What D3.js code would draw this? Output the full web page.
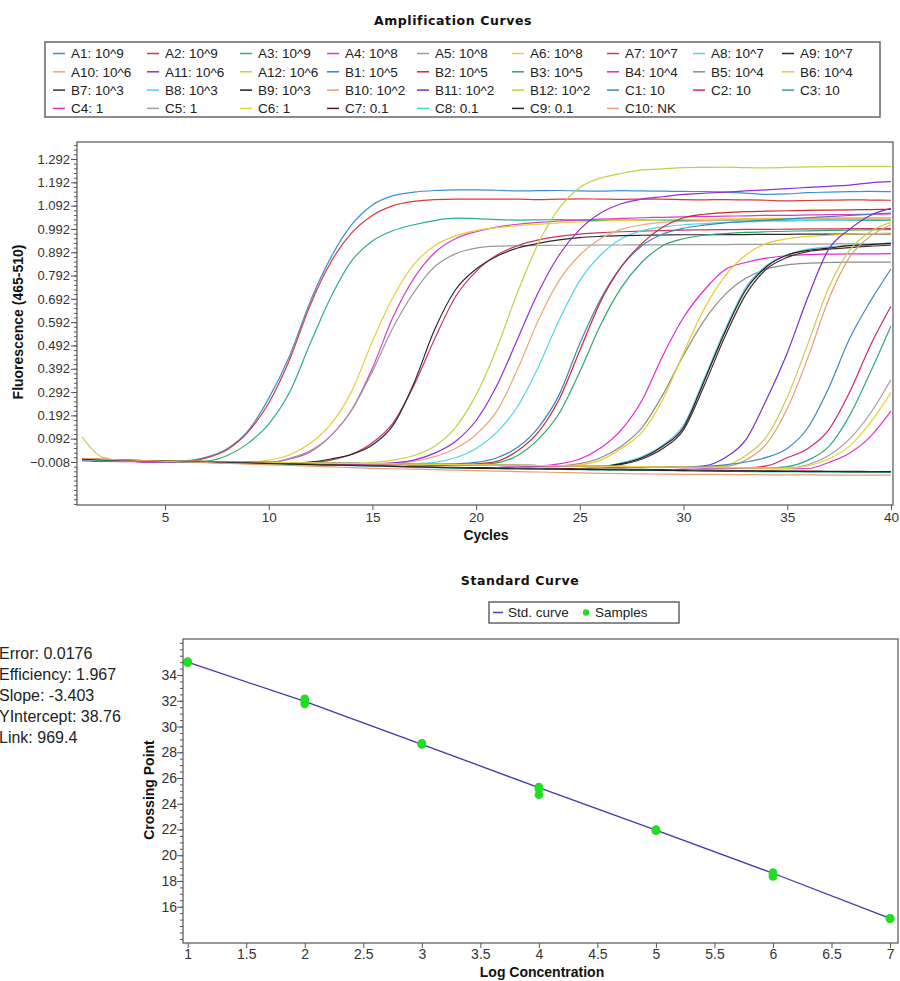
<!DOCTYPE html>
<html>
<head>
<meta charset="utf-8">
<script src="https://cdn.jsdelivr.net/npm/d3@7"></script>
<style>
body { margin: 0; background: #fff; }
svg { display: block; font-family: "Liberation Sans", Arial, sans-serif; }
.title { font-family: "DejaVu Sans", Verdana, sans-serif; font-weight: bold; font-size: 12.5px; letter-spacing: 0.6px; fill: #111; }
.axis-label { font-weight: bold; font-size: 14px; fill: #111; }
.tick text { fill: #333; }
.tick line { stroke: #555; }
</style>
</head>
<body>
<script>

// ---- amplification data (fluorescence per cycle 1..40) ----
var cycles = d3.range(1, 41);

var A1 = [0.006,0.002,0.000,-0.002,-0.003,-0.002,0.013,0.049,0.125,0.265,
  0.446,0.680,0.870,1.010,1.095,1.135,1.150,1.157,1.160,1.160,
  1.158,1.155,1.156,1.157,1.155,1.154,1.156,1.155,1.154,1.153,
  1.152,1.150,1.146,1.140,1.142,1.148,1.150,1.152,1.153,1.152];
var A2 = [0.000,-0.004,-0.005,-0.006,-0.007,-0.006,0.010,0.045,0.120,0.245,
  0.430,0.665,0.850,0.975,1.050,1.092,1.110,1.118,1.120,1.120,
  1.120,1.120,1.118,1.120,1.121,1.120,1.119,1.120,1.120,1.118,
  1.117,1.118,1.117,1.115,1.112,1.114,1.116,1.117,1.116,1.115];
var A3 = [0.002,-0.002,-0.004,-0.005,-0.006,-0.007,-0.004,0.020,0.072,0.155,
  0.290,0.500,0.700,0.855,0.940,0.985,1.010,1.028,1.038,1.036,
  1.032,1.030,1.031,1.032,1.030,1.029,1.030,1.031,1.030,1.029,
  1.028,1.030,1.031,1.030,1.028,1.030,1.031,1.030,1.029,1.030];
var A4 = [-0.003,-0.005,-0.006,-0.007,-0.008,-0.009,-0.010,-0.012,-0.013,-0.012,
  0.005,0.035,0.105,0.215,0.395,0.615,0.780,0.890,0.950,0.980,
  1.000,1.012,1.020,1.026,1.030,1.034,1.037,1.040,1.042,1.044,
  1.045,1.047,1.048,1.050,1.050,1.052,1.053,1.054,1.055,1.056];
var A5 = [0.001,-0.002,-0.004,-0.005,-0.006,-0.007,-0.008,-0.010,-0.011,-0.011,
  0.008,0.040,0.105,0.215,0.380,0.570,0.720,0.830,0.885,0.910,
  0.918,0.920,0.921,0.922,0.922,0.923,0.923,0.924,0.924,0.925,
  0.925,0.925,0.926,0.926,0.927,0.927,0.927,0.928,0.928,0.928];
var A6 = [0.004,0.000,-0.002,-0.004,-0.005,-0.006,-0.007,-0.008,-0.009,0.000,
  0.022,0.072,0.155,0.295,0.510,0.700,0.840,0.920,0.962,0.985,
  0.998,1.006,1.012,1.018,1.022,1.026,1.028,1.030,1.032,1.033,
  1.034,1.035,1.036,1.037,1.037,1.038,1.039,1.040,1.040,1.041];
var A7 = [0.000,-0.003,-0.005,-0.006,-0.007,-0.008,-0.009,-0.010,-0.011,-0.012,
  -0.013,-0.010,0.000,0.025,0.075,0.160,0.320,0.520,0.700,0.810,
  0.880,0.920,0.945,0.960,0.970,0.976,0.980,0.983,0.985,0.987,
  0.988,0.989,0.990,0.990,0.991,0.992,0.992,0.993,0.993,0.994];
var A8 = [0.003,0.000,-0.002,-0.004,-0.005,-0.006,-0.007,-0.008,-0.009,-0.010,
  -0.011,-0.012,-0.013,-0.014,-0.015,-0.016,-0.015,-0.010,0.010,0.050,
  0.120,0.230,0.400,0.600,0.770,0.880,0.950,0.985,1.000,1.010,
  1.015,1.020,1.022,1.025,1.027,1.028,1.030,1.031,1.032,1.033];
var A9 = [0.002,-0.002,-0.004,-0.005,-0.006,-0.007,-0.008,-0.009,-0.010,-0.011,
  -0.012,-0.008,0.005,0.025,0.065,0.150,0.330,0.560,0.730,0.820,
  0.875,0.910,0.930,0.945,0.955,0.960,0.963,0.965,0.966,0.967,
  0.967,0.968,0.968,0.969,0.969,0.970,0.970,0.970,0.971,0.971];
var A10 = [0.002,-0.001,-0.003,-0.004,-0.005,-0.006,-0.007,-0.008,-0.009,-0.010,
  -0.011,-0.012,-0.013,-0.014,-0.015,-0.013,-0.005,0.015,0.050,0.110,
  0.210,0.390,0.600,0.770,0.880,0.950,0.990,1.010,1.020,1.025,
  1.028,1.030,1.032,1.033,1.034,1.035,1.036,1.037,1.038,1.038];
var A11 = [0.000,-0.003,-0.005,-0.006,-0.007,-0.008,-0.009,-0.010,-0.011,-0.012,
  -0.013,-0.014,-0.015,-0.016,-0.016,-0.012,0.000,0.030,0.080,0.170,
  0.320,0.520,0.720,0.880,0.990,1.060,1.100,1.120,1.130,1.140,
  1.145,1.150,1.155,1.160,1.165,1.170,1.175,1.180,1.190,1.195];
var A12 = [0.001,-0.002,-0.004,-0.005,-0.006,-0.007,-0.008,-0.009,-0.010,-0.011,
  -0.012,-0.013,-0.014,-0.015,-0.010,0.000,0.020,0.060,0.140,0.280,
  0.480,0.720,0.930,1.080,1.170,1.210,1.230,1.245,1.250,1.255,
  1.256,1.257,1.255,1.254,1.256,1.258,1.259,1.260,1.260,1.260];
var B1 = [0.003,0.000,-0.002,-0.003,-0.004,-0.005,-0.006,-0.008,-0.009,-0.010,
  -0.011,-0.012,-0.013,-0.014,-0.015,-0.016,-0.017,-0.018,-0.016,-0.010,
  0.010,0.055,0.140,0.280,0.500,0.690,0.830,0.920,0.970,0.995,
  1.008,1.018,1.024,1.030,1.035,1.040,1.045,1.050,1.055,1.060];
var B2 = [0.000,-0.003,-0.005,-0.006,-0.007,-0.008,-0.009,-0.010,-0.011,-0.012,
  -0.013,-0.014,-0.015,-0.016,-0.017,-0.018,-0.019,-0.020,-0.020,-0.016,
  -0.005,0.040,0.120,0.260,0.470,0.680,0.830,0.930,1.000,1.040,
  1.055,1.062,1.066,1.068,1.070,1.072,1.073,1.074,1.075,1.076];
var B3 = [0.002,-0.001,-0.003,-0.004,-0.005,-0.006,-0.007,-0.009,-0.010,-0.011,
  -0.012,-0.013,-0.014,-0.015,-0.016,-0.017,-0.018,-0.019,-0.020,-0.019,
  -0.012,0.020,0.090,0.200,0.380,0.580,0.740,0.850,0.920,0.950,
  0.965,0.972,0.977,0.980,0.982,0.984,0.986,0.987,0.988,0.989];
var B4 = [0.001,-0.002,-0.004,-0.005,-0.006,-0.007,-0.008,-0.010,-0.011,-0.012,
  -0.013,-0.014,-0.015,-0.016,-0.017,-0.018,-0.019,-0.020,-0.021,-0.022,
  -0.023,-0.024,-0.024,-0.016,0.005,0.052,0.130,0.257,0.448,0.612,
  0.730,0.817,0.848,0.867,0.877,0.882,0.884,0.885,0.885,0.886];
var B5 = [0.003,0.000,-0.002,-0.004,-0.005,-0.006,-0.007,-0.008,-0.010,-0.011,
  -0.012,-0.013,-0.014,-0.015,-0.016,-0.017,-0.018,-0.019,-0.020,-0.021,
  -0.022,-0.023,-0.024,-0.024,-0.015,0.010,0.060,0.140,0.280,0.450,
  0.600,0.710,0.780,0.820,0.838,0.845,0.848,0.850,0.850,0.850];
var B6 = [0.002,-0.001,-0.003,-0.004,-0.005,-0.006,-0.007,-0.009,-0.010,-0.011,
  -0.012,-0.013,-0.014,-0.015,-0.016,-0.017,-0.018,-0.019,-0.020,-0.021,
  -0.022,-0.023,-0.024,-0.025,-0.020,0.000,0.050,0.120,0.260,0.460,
  0.650,0.790,0.880,0.930,0.950,0.960,0.965,0.970,0.972,0.974];
var B7 = [0.005,0.001,-0.001,-0.003,-0.004,-0.005,-0.006,-0.008,-0.009,-0.010,
  -0.011,-0.012,-0.013,-0.014,-0.015,-0.016,-0.017,-0.018,-0.019,-0.020,
  -0.021,-0.022,-0.023,-0.024,-0.025,-0.026,-0.018,0.005,0.050,0.130,
  0.320,0.530,0.710,0.820,0.870,0.895,0.905,0.912,0.918,0.922];
var B8 = [0.001,-0.002,-0.004,-0.005,-0.006,-0.007,-0.008,-0.009,-0.010,-0.011,
  -0.012,-0.013,-0.014,-0.015,-0.016,-0.017,-0.018,-0.019,-0.020,-0.021,
  -0.022,-0.023,-0.024,-0.025,-0.026,-0.027,-0.012,0.015,0.065,0.150,
  0.350,0.560,0.740,0.835,0.880,0.905,0.915,0.922,0.927,0.932];
var B9 = [0.003,0.000,-0.002,-0.004,-0.005,-0.006,-0.007,-0.008,-0.010,-0.011,
  -0.012,-0.013,-0.014,-0.015,-0.016,-0.017,-0.018,-0.019,-0.020,-0.021,
  -0.022,-0.023,-0.024,-0.025,-0.026,-0.026,-0.015,0.010,0.060,0.140,
  0.340,0.550,0.730,0.830,0.880,0.900,0.910,0.920,0.925,0.930];
var B10 = [0.002,-0.001,-0.003,-0.004,-0.005,-0.006,-0.007,-0.008,-0.009,-0.011,
  -0.012,-0.013,-0.014,-0.015,-0.016,-0.017,-0.018,-0.019,-0.020,-0.021,
  -0.022,-0.023,-0.024,-0.025,-0.026,-0.027,-0.028,-0.029,-0.030,-0.031,
  -0.032,-0.028,0.000,0.070,0.220,0.440,0.690,0.870,0.960,1.010];
var B11 = [0.000,-0.003,-0.005,-0.006,-0.007,-0.008,-0.009,-0.010,-0.011,-0.012,
  -0.013,-0.014,-0.015,-0.016,-0.017,-0.018,-0.019,-0.020,-0.021,-0.022,
  -0.023,-0.024,-0.025,-0.026,-0.027,-0.028,-0.029,-0.030,-0.031,-0.030,
  -0.025,0.010,0.087,0.260,0.460,0.700,0.905,0.990,1.050,1.080];
var B12 = [0.100,0.012,-0.002,-0.003,-0.004,-0.005,-0.006,-0.008,-0.009,-0.010,
  -0.011,-0.012,-0.013,-0.014,-0.015,-0.016,-0.017,-0.018,-0.019,-0.020,
  -0.021,-0.022,-0.023,-0.024,-0.025,-0.026,-0.027,-0.028,-0.029,-0.030,
  -0.031,-0.025,0.020,0.100,0.270,0.500,0.740,0.900,0.980,1.020];
var C1 = [0.004,0.000,-0.002,-0.003,-0.004,-0.005,-0.006,-0.008,-0.009,-0.010,
  -0.011,-0.012,-0.013,-0.014,-0.015,-0.016,-0.017,-0.018,-0.019,-0.020,
  -0.021,-0.022,-0.023,-0.024,-0.025,-0.026,-0.027,-0.028,-0.029,-0.029,
  -0.027,-0.020,-0.008,0.012,0.050,0.140,0.310,0.520,0.680,0.820];
var C2 = [0.001,-0.002,-0.004,-0.005,-0.006,-0.007,-0.008,-0.010,-0.011,-0.012,
  -0.013,-0.014,-0.015,-0.016,-0.017,-0.018,-0.019,-0.020,-0.021,-0.022,
  -0.023,-0.024,-0.025,-0.026,-0.027,-0.028,-0.029,-0.030,-0.031,-0.032,
  -0.033,-0.034,-0.033,-0.025,0.010,0.050,0.130,0.290,0.490,0.660];
var C3 = [0.003,0.000,-0.002,-0.004,-0.005,-0.006,-0.007,-0.009,-0.010,-0.011,
  -0.012,-0.013,-0.014,-0.015,-0.016,-0.017,-0.018,-0.019,-0.020,-0.021,
  -0.022,-0.023,-0.024,-0.025,-0.026,-0.027,-0.028,-0.029,-0.030,-0.031,
  -0.032,-0.033,-0.034,-0.034,-0.028,0.000,0.058,0.190,0.375,0.575];
var C4 = [0.000,-0.003,-0.005,-0.006,-0.007,-0.008,-0.009,-0.010,-0.011,-0.012,
  -0.013,-0.014,-0.015,-0.016,-0.017,-0.018,-0.019,-0.020,-0.021,-0.022,
  -0.023,-0.024,-0.025,-0.026,-0.027,-0.028,-0.029,-0.030,-0.031,-0.032,
  -0.033,-0.034,-0.035,-0.036,-0.037,-0.036,-0.010,0.030,0.100,0.210];
var C5 = [0.002,-0.001,-0.003,-0.004,-0.005,-0.006,-0.007,-0.008,-0.009,-0.010,
  -0.011,-0.012,-0.013,-0.014,-0.015,-0.016,-0.017,-0.018,-0.019,-0.020,
  -0.021,-0.022,-0.023,-0.024,-0.025,-0.026,-0.027,-0.028,-0.029,-0.030,
  -0.031,-0.032,-0.033,-0.034,-0.034,-0.020,0.020,0.090,0.200,0.345];
var C6 = [0.004,0.001,-0.001,-0.003,-0.004,-0.005,-0.006,-0.008,-0.009,-0.010,
  -0.011,-0.012,-0.013,-0.014,-0.015,-0.016,-0.017,-0.018,-0.019,-0.020,
  -0.021,-0.022,-0.023,-0.024,-0.025,-0.026,-0.027,-0.028,-0.029,-0.030,
  -0.031,-0.032,-0.033,-0.034,-0.035,-0.025,0.005,0.060,0.160,0.290];
var C7 = [0.006,0.003,0.000,-0.002,-0.004,-0.006,-0.008,-0.010,-0.012,-0.014,
  -0.016,-0.018,-0.020,-0.022,-0.024,-0.026,-0.028,-0.030,-0.031,-0.032,
  -0.033,-0.034,-0.035,-0.036,-0.037,-0.038,-0.039,-0.040,-0.041,-0.042,
  -0.043,-0.044,-0.045,-0.046,-0.047,-0.047,-0.048,-0.048,-0.049,-0.049];
var C8 = [0.002,0.000,-0.002,-0.004,-0.006,-0.008,-0.010,-0.012,-0.014,-0.016,
  -0.018,-0.020,-0.022,-0.024,-0.026,-0.028,-0.030,-0.032,-0.034,-0.036,
  -0.037,-0.038,-0.039,-0.040,-0.041,-0.042,-0.043,-0.044,-0.045,-0.046,
  -0.047,-0.048,-0.049,-0.050,-0.050,-0.051,-0.051,-0.052,-0.052,-0.053];
var C9 = [0.004,0.001,-0.001,-0.003,-0.005,-0.007,-0.009,-0.011,-0.013,-0.015,
  -0.017,-0.019,-0.021,-0.023,-0.025,-0.027,-0.029,-0.031,-0.033,-0.035,
  -0.036,-0.037,-0.038,-0.039,-0.040,-0.041,-0.042,-0.043,-0.044,-0.045,
  -0.046,-0.047,-0.047,-0.048,-0.048,-0.049,-0.049,-0.050,-0.050,-0.050];
var C10 = [0.008,0.004,0.001,-0.002,-0.005,-0.008,-0.011,-0.014,-0.017,-0.020,
  -0.023,-0.026,-0.029,-0.032,-0.035,-0.037,-0.039,-0.041,-0.043,-0.045,
  -0.047,-0.049,-0.051,-0.053,-0.055,-0.057,-0.058,-0.059,-0.060,-0.061,
  -0.061,-0.062,-0.062,-0.063,-0.063,-0.063,-0.064,-0.064,-0.064,-0.064];

var seriesNames = ["A1","A2","A3","A4","A5","A6","A7","A8","A9","A10","A11","A12",
  "B1","B2","B3","B4","B5","B6","B7","B8","B9","B10","B11","B12",
  "C1","C2","C3","C4","C5","C6","C7","C8","C9","C10"];
var seriesConc = ["10^9","10^9","10^9","10^8","10^8","10^8","10^7","10^7","10^7","10^6","10^6","10^6",
  "10^5","10^5","10^5","10^4","10^4","10^4","10^3","10^3","10^3","10^2","10^2","10^2",
  "10","10","10","1","1","1","0.1","0.1","0.1","NK"];
var seriesValues = [A1,A2,A3,A4,A5,A6,A7,A8,A9,A10,A11,A12,
  B1,B2,B3,B4,B5,B6,B7,B8,B9,B10,B11,B12,
  C1,C2,C3,C4,C5,C6,C7,C8,C9,C10];
var seriesColors = ["#3d8fd6","#d93a3a","#2fae7c","#d23fc7","#9a9a9a","#e3cf3a","#c8385e","#55d4e6","#2b2b2b","#e8a878","#8f2fd6","#c5cf48",
  "#3a82c8","#c72b2b","#2fa56b","#e02ad0","#8c8c8c","#e6cd2a","#4a2a2a","#5ccbe8","#1e1e1e","#e0a07c","#7a2ec8","#cccc48",
  "#3f86c4","#d02a5a","#34a874","#e033c8","#a0a0a0","#e6d53a","#5a1a1a","#3ee0d0","#262626","#e8a070"];

var fluorTicks = [-0.008,0.092,0.192,0.292,0.392,0.492,0.592,0.692,0.792,0.892,0.992,1.092,1.192,1.292];
var cycleTicks = [5,10,15,20,25,30,35,40];

// ---- standard curve data ----
var logConc = [1,2,3,4,5,6,7];
var stdCurveCp = [35.0,31.95,28.62,25.25,21.95,18.6,15.1];
var sampleLog = [1,1,1,2,2,2,3,3,3,4,4,4,5,5,5,6,6,6,7,7,7];
var sampleCp = [35.0,34.95,35.05,32.15,31.95,31.75,28.65,28.6,28.7,25.3,25.15,24.7,21.95,21.9,22.0,18.65,18.5,18.35,15.1,15.05,15.1];
var stdStats = ["Error: 0.0176","Efficiency: 1.967","Slope: -3.403","YIntercept: 38.76","Link: 969.4"];
var logTicks = [1,1.5,2,2.5,3,3.5,4,4.5,5,5.5,6,6.5,7];
var cpTicks = [16,18,20,22,24,26,28,30,32,34];

var svg = d3.select("body").append("svg")
  .attr("width", 900)
  .attr("height", 981);

// ================= Amplification Curves =================
var amp = {left: 77, right: 893, top: 142, bottom: 505};

var x = d3.scaleLinear().domain([0.757, 40.1]).range([amp.left, amp.right]);
var y = d3.scaleLinear().domain([-0.1925, 1.365]).range([amp.bottom, amp.top]);

svg.append("text")
  .attr("class", "title")
  .attr("x", 453).attr("y", 25)
  .attr("text-anchor", "middle")
  .text("Amplification Curves");

// legend
var legendColX = [53,147,240,327,417,512,607,693,782];
svg.append("rect")
  .attr("x", 45).attr("y", 42).attr("width", 835).attr("height", 75)
  .attr("fill", "#fff").attr("stroke", "#666").attr("stroke-width", 1.5);

var leg = svg.selectAll("g.leg")
  .data(seriesNames)
  .enter().append("g")
  .attr("class", "leg")
  .attr("transform", (d, i) => "translate(" + legendColX[i % 9] + "," + (53.5 + Math.floor(i / 9) * 18.3) + ")");
leg.append("line")
  .attr("x1", 0).attr("x2", 12).attr("y1", 0).attr("y2", 0)
  .attr("stroke", (d, i) => seriesColors[i]).attr("stroke-width", 1.5);
leg.append("text")
  .attr("x", 18).attr("y", 0).attr("dy", "0.35em")
  .style("font-size", "13.5px").style("fill", "#222")
  .text((d, i) => d + ": " + seriesConc[i]);

svg.append("defs").append("clipPath").attr("id", "ampclip")
  .append("rect")
  .attr("x", amp.left).attr("y", amp.top)
  .attr("width", amp.right - amp.left).attr("height", amp.bottom - amp.top);

// minor y ticks
svg.append("g")
  .attr("transform", "translate(" + amp.left + ",0)")
  .call(d3.axisLeft(y).tickValues(d3.range(-0.188, 1.36, 0.02)).tickSize(3).tickFormat(""))
  .call(g => g.select(".domain").remove());

svg.append("g")
  .attr("transform", "translate(" + amp.left + ",0)")
  .call(d3.axisLeft(y).tickValues(fluorTicks).tickSize(6).tickFormat(d3.format(".3f")))
  .call(g => g.select(".domain").remove())
  .call(g => g.selectAll("text").style("font-size", "13px").attr("x", -7));

svg.append("g")
  .attr("transform", "translate(0," + amp.bottom + ")")
  .call(d3.axisBottom(x).tickValues(cycleTicks).tickSize(5))
  .call(g => g.select(".domain").remove())
  .call(g => g.selectAll("text").style("font-size", "13.5px").attr("y", 7));

var line = d3.line()
  .x((d, i) => x(cycles[i]))
  .y(d => y(d))
  .curve(d3.curveMonotoneX);

svg.append("g")
  .attr("clip-path", "url(#ampclip)")
  .selectAll("path")
  .data(seriesValues)
  .enter().append("path")
  .attr("d", line)
  .attr("fill", "none")
  .attr("stroke", (d, i) => seriesColors[i])
  .attr("stroke-width", 1.2);

svg.append("rect")
  .attr("x", amp.left).attr("y", amp.top)
  .attr("width", amp.right - amp.left).attr("height", amp.bottom - amp.top)
  .attr("fill", "none").attr("stroke", "#555").attr("stroke-width", 1.2);

svg.append("text")
  .attr("class", "axis-label")
  .attr("x", 486).attr("y", 540)
  .attr("text-anchor", "middle")
  .text("Cycles");

svg.append("text")
  .attr("class", "axis-label")
  .attr("transform", "translate(23,322) rotate(-90)")
  .attr("text-anchor", "middle")
  .text("Fluorescence (465-510)");

// ================= Standard Curve =================
var sc = {left: 183, right: 898, top: 639, bottom: 943};

var sx = d3.scaleLinear().domain([0.96, 7.068]).range([sc.left, sc.right]);
var sy = d3.scaleLinear().domain([13.18, 36.8]).range([sc.bottom, sc.top]);

svg.append("text")
  .attr("class", "title")
  .attr("x", 520).attr("y", 585)
  .attr("text-anchor", "middle")
  .text("Standard Curve");

// legend
svg.append("rect")
  .attr("x", 489).attr("y", 602).attr("width", 190).attr("height", 21)
  .attr("fill", "#fff").attr("stroke", "#666").attr("stroke-width", 1.5);
svg.append("line")
  .attr("x1", 493).attr("x2", 503).attr("y1", 612.5).attr("y2", 612.5)
  .attr("stroke", "#4444aa").attr("stroke-width", 1.5);
svg.append("text")
  .attr("x", 508).attr("y", 612.5).attr("dy", "0.35em")
  .style("font-size", "13.5px").style("fill", "#222")
  .text("Std. curve");
svg.append("circle")
  .attr("cx", 586).attr("cy", 612.5).attr("r", 3.2)
  .attr("fill", "#22dd22");
svg.append("text")
  .attr("x", 595).attr("y", 612.5).attr("dy", "0.35em")
  .style("font-size", "13.5px").style("fill", "#222")
  .text("Samples");

// stats
svg.selectAll("text.stat")
  .data(stdStats)
  .enter().append("text")
  .attr("class", "stat")
  .attr("x", -1)
  .attr("y", (d, i) => 653 + i * 21)
  .attr("dy", "0.35em")
  .style("font-size", "16px").style("fill", "#222")
  .text(d => d);

svg.append("g")
  .attr("transform", "translate(" + sc.left + ",0)")
  .call(d3.axisLeft(sy).tickValues(d3.range(13.5, 36.8, 0.5)).tickSize(3).tickFormat(""))
  .call(g => g.select(".domain").remove());

svg.append("g")
  .attr("transform", "translate(" + sc.left + ",0)")
  .call(d3.axisLeft(sy).tickValues(cpTicks).tickSize(6))
  .call(g => g.select(".domain").remove())
  .call(g => g.selectAll("text").style("font-size", "14px").attr("x", -6));

svg.append("g")
  .attr("transform", "translate(0," + sc.bottom + ")")
  .call(d3.axisBottom(sx).tickValues(logTicks).tickSize(5).tickFormat(d3.format("")))
  .call(g => g.select(".domain").remove())
  .call(g => g.selectAll("text").style("font-size", "14px").attr("y", 6));

svg.append("path")
  .datum(logConc)
  .attr("d", d3.line().x(d => sx(d)).y((d, i) => sy(stdCurveCp[i])))
  .attr("fill", "none")
  .attr("stroke", "#3b3ba8")
  .attr("stroke-width", 1.3);

svg.selectAll("circle.sample")
  .data(sampleLog)
  .enter().append("circle")
  .attr("class", "sample")
  .attr("cx", d => sx(d))
  .attr("cy", (d, i) => sy(sampleCp[i]))
  .attr("r", 4.3)
  .attr("fill", "#22dd22");

svg.append("rect")
  .attr("x", sc.left).attr("y", sc.top)
  .attr("width", sc.right - sc.left).attr("height", sc.bottom - sc.top)
  .attr("fill", "none").attr("stroke", "#555").attr("stroke-width", 1.2);

svg.append("text")
  .attr("class", "axis-label")
  .attr("x", 542).attr("y", 977)
  .attr("text-anchor", "middle")
  .text("Log Concentration");

svg.append("text")
  .attr("class", "axis-label")
  .attr("transform", "translate(154,790) rotate(-90)")
  .attr("text-anchor", "middle")
  .text("Crossing Point");

</script>
</body>
</html>
